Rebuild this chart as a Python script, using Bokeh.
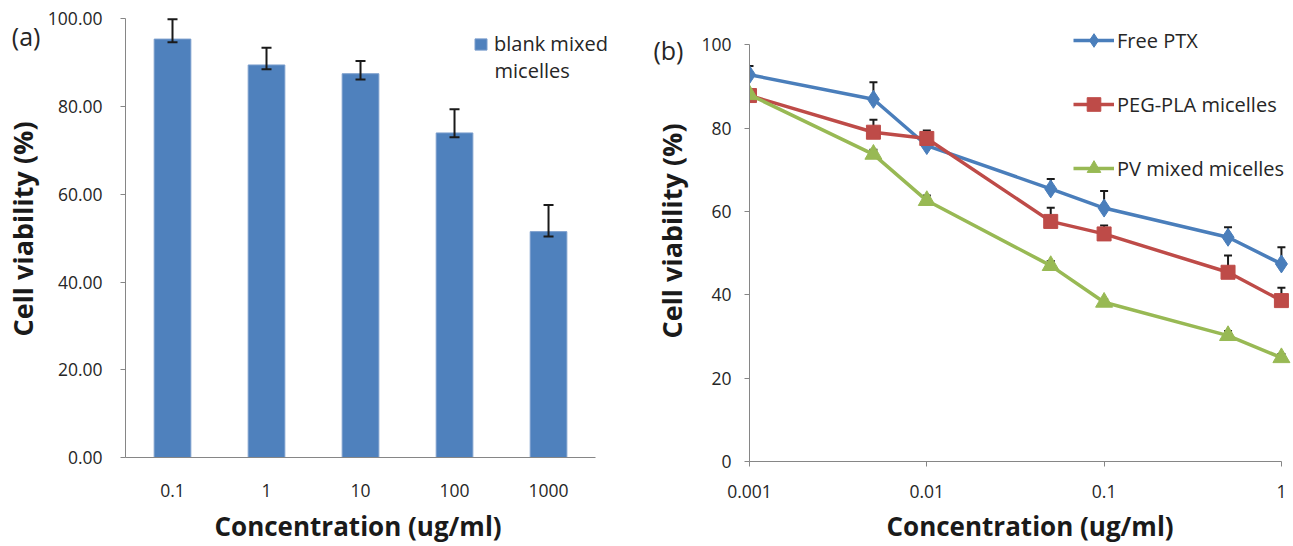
from bokeh.plotting import figure
from bokeh.models import (Range1d, Whisker, TeeHead, ColumnDataSource, LinearAxis, Title,
                          Legend, LegendItem, Label, FixedTicker, CustomJSTickFormatter)
from bokeh.layouts import row
from bokeh.embed import file_html
from bokeh.resources import INLINE

# ---------------- data ----------------
categories = ["0.1", "1", "10", "100", "1000"]
blank_viability = [95.4, 89.5, 87.5, 74.0, 51.5]
blank_upper = [99.9, 93.4, 90.4, 79.4, 57.6]
blank_lower = [94.7, 88.5, 86.2, 73.0, 50.4]

conc = [0.001, 0.005, 0.01, 0.05, 0.1, 0.5, 1]
free_ptx = [92.8, 86.9, 75.8, 65.4, 60.8, 53.8, 47.4]
free_ptx_upper = [94.9, 91.0, 76.5, 67.8, 64.9, 56.2, 51.4]
peg_pla = [87.8, 79.0, 77.5, 57.6, 54.6, 45.4, 38.6]
peg_pla_upper = [88.5, 82.0, 79.4, 60.9, 56.6, 49.4, 41.7]
pv_mixed = [88.0, 73.7, 62.6, 47.0, 38.2, 30.2, 24.9]
pv_mixed_upper = [88.5, 74.8, 63.8, 48.1, 39.0, 31.3, 25.8]

y_ticks_a = [0, 20, 40, 60, 80, 100]
y_labels_a = ["0.00", "20.00", "40.00", "60.00", "80.00", "100.00"]
y_ticks_b = [0, 20, 40, 60, 80, 100]
x_ticks_b = [0.001, 0.01, 0.1, 1]

FONT = "Open Sans"
AXIS_COL = "#868686"
TEXT_COL = "#262626"
TITLE_COL = "#1a1a1a"


def style_axes(p):
    p.xgrid.visible = False
    p.ygrid.visible = False
    p.outline_line_color = None
    for ax in (p.xaxis[0], p.yaxis[0]):
        ax.axis_line_color = AXIS_COL
        ax.major_tick_line_color = AXIS_COL
        ax.minor_tick_line_color = None
        ax.major_tick_in = 0
        ax.major_label_text_font = FONT
        ax.major_label_text_font_size = "17.5px"
        ax.major_label_text_color = TEXT_COL
        ax.axis_label_text_font = FONT
        ax.axis_label_text_font_style = "bold"
        ax.axis_label_text_color = TITLE_COL


def panel_tag(p, text, yval, standoff):
    ax = LinearAxis(ticker=FixedTicker(ticks=[yval]),
                    major_label_overrides={yval: text},
                    axis_line_color=None, major_tick_line_color=None,
                    minor_tick_line_color=None, major_tick_out=0, major_tick_in=0,
                    major_label_standoff=standoff,
                    major_label_text_font=FONT, major_label_text_font_size="25px",
                    major_label_text_color=TEXT_COL)
    p.add_layout(ax, "left")


def x_title(p, text, offset, standoff):
    p.add_layout(Title(text=text, align="left", offset=offset, standoff=standoff,
                       text_font=FONT, text_font_size="26px", text_font_style="bold",
                       text_color=TITLE_COL), "below")


# ---------------- panel (a) ----------------
xpos = [i + 0.5 for i in range(len(categories))]
p1 = figure(frame_width=516, frame_height=457, x_range=Range1d(0, 5.489),
            y_range=Range1d(0, 104.2), output_backend="svg", toolbar_location=None,
            min_border_left=124, min_border_right=0, min_border_top=0,
            min_border_bottom=86)
bars = p1.vbar(x=xpos, top=blank_viability, width=0.39,
               fill_color="#4F81BD", line_color="#7a9dcc", line_width=1)
src_a = ColumnDataSource(dict(x=xpos, upper=blank_upper, lower=blank_lower))
p1.add_layout(Whisker(base="x", upper="upper", lower="lower", source=src_a,
                      dimension="height", line_color="#1a1a1a", line_width=2,
                      level="overlay",
                      upper_head=TeeHead(size=10, line_color="#1a1a1a", line_width=2),
                      lower_head=TeeHead(size=10, line_color="#1a1a1a", line_width=2)))
style_axes(p1)
p1.yaxis[0].ticker = FixedTicker(ticks=y_ticks_a)
p1.yaxis[0].major_label_overrides = dict(zip(y_ticks_a, y_labels_a))
p1.yaxis[0].bounds = (y_ticks_a[0], y_ticks_a[-1])
p1.yaxis[0].major_tick_out = 5
p1.yaxis[0].major_label_standoff = 18
p1.yaxis[0].axis_label = "Cell viability (%)"
p1.yaxis[0].axis_label_text_font_size = "27px"
p1.yaxis[0].axis_label_standoff = 4
p1.xaxis[0].ticker = FixedTicker(ticks=xpos)
p1.xaxis[0].major_label_overrides = dict(zip(xpos, categories))
p1.xaxis[0].bounds = (0, len(categories))
p1.xaxis[0].major_tick_out = 0
p1.xaxis[0].major_label_standoff = 26
x_title(p1, "Concentration (ug/ml)", 89, 12)
panel_tag(p1, "(a)", 96.2, -40)

leg_a = Legend(items=[LegendItem(label="blank mixed", renderers=[bars])],
               location=(348, 400), glyph_width=15, glyph_height=14, label_standoff=6,
               padding=0, margin=0, border_line_color=None, background_fill_alpha=0,
               label_text_font=FONT, label_text_font_size="20px",
               label_text_color=TEXT_COL)
p1.add_layout(leg_a)
p1.add_layout(Label(x=369, y=387, x_units="screen", y_units="screen", text="micelles",
                    text_font=FONT, text_font_size="20px", text_color=TEXT_COL,
                    text_baseline="middle"))

# ---------------- panel (b) ----------------
p2 = figure(frame_width=542, frame_height=461, x_axis_type="log",
            x_range=Range1d(0.001, 1.140), y_range=Range1d(0, 110.6),
            output_backend="svg", toolbar_location=None,
            min_border_left=108, min_border_right=0, min_border_top=0,
            min_border_bottom=82)

series = [
    ("Free PTX", free_ptx, free_ptx_upper, "#4A7EBB", "diamond", 18),
    ("PEG-PLA micelles", peg_pla, peg_pla_upper, "#BE4B48", "square", 14),
    ("PV mixed micelles", pv_mixed, pv_mixed_upper, "#98B954", "triangle", 17),
]
items = []
for name, ys, ups, col, mk, sz in series:
    s = ColumnDataSource(dict(x=conc, y=ys, upper=ups))
    p2.add_layout(Whisker(base="x", upper="upper", lower="y", source=s,
                          dimension="height", line_color="#1a1a1a", line_width=2,
                          level="underlay",
                          upper_head=TeeHead(size=8, line_color="#1a1a1a", line_width=2),
                          lower_head=None))
    ln = p2.line("x", "y", source=s, line_color=col, line_width=3.5)
    sc = p2.scatter("x", "y", source=s, marker=mk, size=sz, fill_color=col,
                    line_color=col)
    items.append(LegendItem(label=name, renderers=[ln, sc]))

style_axes(p2)
p2.xaxis[0].ticker = FixedTicker(ticks=x_ticks_b)
p2.xaxis[0].formatter = CustomJSTickFormatter(code="return String(tick)")
p2.xaxis[0].bounds = (x_ticks_b[0], x_ticks_b[-1])
p2.xaxis[0].major_tick_out = 5
p2.xaxis[0].major_label_standoff = 18
x_title(p2, "Concentration (ug/ml)", 137, 11)
p2.yaxis[0].ticker = FixedTicker(ticks=y_ticks_b)
p2.yaxis[0].bounds = (y_ticks_b[0], y_ticks_b[-1])
p2.yaxis[0].major_tick_out = 5
p2.yaxis[0].major_label_standoff = 13
p2.yaxis[0].axis_label = "Cell viability (%)"
p2.yaxis[0].axis_label_text_font_size = "27px"
p2.yaxis[0].axis_label_standoff = 8
panel_tag(p2, "(b)", 98.75, -33)

leg_b = Legend(items=items, location=(324, 276), glyph_width=41, glyph_height=34,
               label_standoff=3, spacing=30, padding=0, margin=0,
               border_line_color=None, background_fill_alpha=0,
               label_text_font=FONT, label_text_font_size="20px",
               label_text_color=TEXT_COL)
p2.add_layout(leg_b)

layout = row(p1, p2)
open("out.html", "w").write(file_html(layout, INLINE))
